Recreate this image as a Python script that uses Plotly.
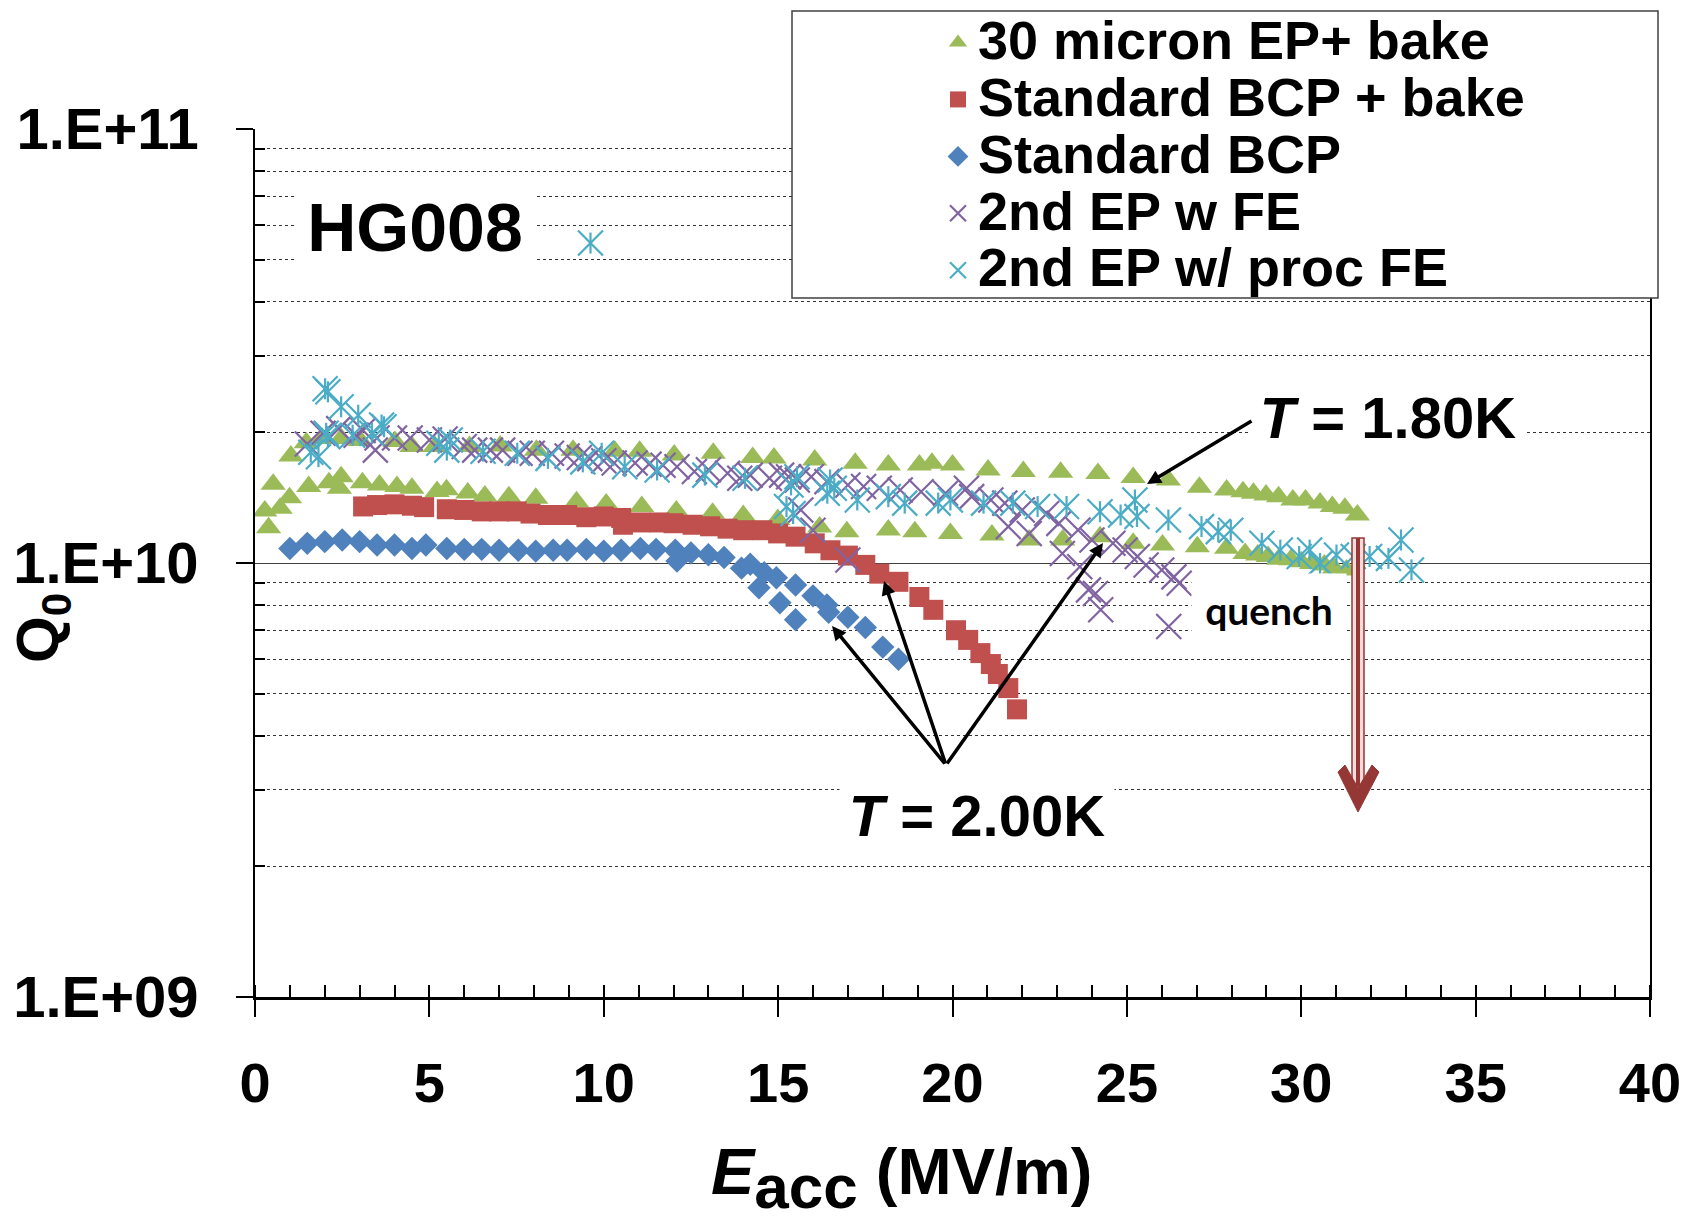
import plotly.graph_objects as go

# ---------------- data ----------------
# 30 micron EP + bake (lower branch, T=2.00K, then upper branch, T=1.80K)
E_ep = [0.28, 0.39, 0.52, 0.72, 0.99, 1.54, 2.12, 2.42, 2.47, 3.08, 3.57, 4.07, 4.50, 5.22, 5.49,
        6.10, 6.59, 7.28, 8.05, 9.22, 10.07, 11.09, 12.08, 13.12, 14.0, 14.99, 16.19, 16.97, 18.16,
        18.92, 19.94, 21.13, 22.20, 23.16, 24.23, 25.18, 26.02, 27.02, 27.86, 28.39, 28.75, 29.05,
        29.35, 29.70, 30.0, 30.3, 30.66, 30.95, 31.3,
        1.03, 1.47, 1.93, 2.47, 3.02, 4.01, 4.50, 5.16, 6.15, 7.03, 8.07, 9.12, 10.32, 11.03, 12.02,
        13.14, 14.27, 14.88, 16.05, 17.21, 18.16, 19.05, 19.41, 20.0, 21.02, 22.03, 23.10, 24.17,
        25.18, 26.19, 27.08, 27.86, 28.33, 28.63, 28.99, 29.35, 29.76, 30.12, 30.54, 30.89, 31.25, 31.61]
Q_ep = [1.318e10, 1.206e10, 1.518e10, 1.337e10, 1.414e10, 1.50e10, 1.531e10, 1.486e10, 1.581e10,
        1.531e10, 1.513e10, 1.50e10, 1.486e10, 1.462e10, 1.474e10, 1.449e10, 1.426e10, 1.422e10,
        1.41e10, 1.384e10, 1.368e10, 1.349e10, 1.318e10, 1.302e10, 1.286e10, 1.26e10, 1.21e10,
        1.181e10, 1.191e10, 1.181e10, 1.17e10, 1.16e10, 1.13e10, 1.13e10, 1.15e10, 1.11e10, 1.10e10,
        1.09e10, 1.081e10, 1.052e10, 1.043e10, 1.035e10, 1.02e10, 1.017e10, 1.007e10, 0.998e10,
        0.989e10, 0.973e10, 0.964e10,
        1.765e10, 1.893e10, 1.937e10, 1.937e10, 1.915e10, 1.905e10, 1.855e10, 1.855e10, 1.855e10,
        1.86e10, 1.82e10, 1.82e10, 1.81e10, 1.81e10, 1.774e10, 1.79e10, 1.75e10, 1.745e10, 1.726e10,
        1.698e10, 1.682e10, 1.682e10, 1.698e10, 1.682e10, 1.638e10, 1.625e10, 1.618e10, 1.607e10,
        1.575e10, 1.554e10, 1.494e10, 1.473e10, 1.46e10, 1.448e10, 1.435e10, 1.422e10, 1.397e10,
        1.397e10, 1.374e10, 1.349e10, 1.337e10, 1.29e10]

# Standard BCP + bake
E_bcpb = [3.1, 3.5, 4.0, 4.5, 4.85, 5.5, 6.0, 6.5, 7.0, 7.5, 7.9, 8.4, 8.95, 9.5, 10.0, 10.5, 10.55,
          11.05, 11.6, 12.0, 12.55, 13.05, 13.55, 14.0, 14.55, 15.0, 15.5, 16.05, 16.5, 17.0, 17.5,
          17.9, 18.45, 19.05, 19.45, 20.1, 20.45, 20.8, 21.1, 21.3, 21.6, 21.85]
Q_bcpb = [1.35e10, 1.36e10, 1.365e10, 1.355e10, 1.345e10, 1.33e10, 1.325e10, 1.315e10, 1.315e10,
          1.315e10, 1.30e10, 1.29e10, 1.29e10, 1.275e10, 1.28e10, 1.27e10, 1.225e10, 1.24e10,
          1.24e10, 1.235e10, 1.225e10, 1.215e10, 1.20e10, 1.19e10, 1.19e10, 1.17e10, 1.15e10,
          1.11e10, 1.07e10, 1.04e10, 0.99e10, 0.945e10, 0.905e10, 0.835e10, 0.78e10, 0.70e10,
          0.665e10, 0.62e10, 0.585e10, 0.555e10, 0.515e10, 0.46e10]

# Standard BCP
E_bcp = [1.0, 1.5, 2.0, 2.5, 3.0, 3.5, 4.0, 4.5, 4.9, 5.5, 6.0, 6.5, 7.0, 7.55, 8.05, 8.55, 8.95,
         9.5, 10.0, 10.5, 11.05, 11.5, 12.05, 12.1, 12.5, 13.0, 13.45, 13.95, 14.2, 14.45, 14.6,
         14.95, 15.05, 15.5, 15.5, 16.0, 16.4, 16.45, 17.0, 17.5, 18.0, 18.45]
Q_bcp = [1.08e10, 1.11e10, 1.12e10, 1.13e10, 1.12e10, 1.10e10, 1.10e10, 1.08e10, 1.10e10, 1.08e10,
         1.075e10, 1.075e10, 1.07e10, 1.07e10, 1.065e10, 1.07e10, 1.07e10, 1.075e10, 1.065e10,
         1.07e10, 1.08e10, 1.075e10, 1.07e10, 1.01e10, 1.055e10, 1.045e10, 1.03e10, 0.973e10,
         0.993e10, 0.877e10, 0.95e10, 0.925e10, 0.81e10, 0.89e10, 0.74e10, 0.84e10, 0.80e10,
         0.77e10, 0.75e10, 0.71e10, 0.64e10, 0.60e10]

# 2nd EP w FE
E_fe = [1.5, 1.95, 2.4, 2.9, 3.1, 3.45, 3.5, 4.0, 4.45, 5.0, 5.45, 6.0, 6.3, 6.75, 7.1, 7.6, 7.95,
        8.5, 8.95, 9.3, 9.6, 10.0, 10.3, 10.9, 11.3, 11.7, 12.1, 12.6, 13.0, 13.55, 13.9, 14.2,
        14.75, 15.1, 15.3, 15.55, 15.65, 15.95, 16.0, 16.4, 17.0, 17.0, 17.45, 17.9, 18.5, 19.1,
        19.8, 20.4, 20.55, 21.1, 21.5, 21.6, 22.0, 22.2, 22.7, 23.05, 23.15, 23.6, 23.65, 24.0,
        23.9, 24.1, 24.25, 24.6, 24.95, 25.3, 25.55, 26.0, 26.35, 26.5, 26.2]
Q_fe = [1.88e10, 1.99e10, 2.04e10, 1.97e10, 2.02e10, 1.82e10, 1.94e10, 1.94e10, 1.94e10, 1.92e10,
        1.93e10, 1.855e10, 1.82e10, 1.82e10, 1.82e10, 1.79e10, 1.79e10, 1.79e10, 1.765e10, 1.75e10,
        1.74e10, 1.72e10, 1.70e10, 1.70e10, 1.69e10, 1.68e10, 1.667e10, 1.625e10, 1.64e10, 1.61e10,
        1.567e10, 1.594e10, 1.567e10, 1.594e10, 1.58e10, 1.554e10, 1.325e10, 1.58e10, 1.19e10,
        1.54e10, 1.513e10, 1.016e10, 1.50e10, 1.486e10, 1.473e10, 1.46e10, 1.448e10, 1.486e10,
        1.422e10, 1.397e10, 1.374e10, 1.213e10, 1.325e10, 1.17e10, 1.30e10, 1.234e10, 1.052e10,
        1.191e10, 0.98e10, 1.13e10, 0.867e10, 0.851e10, 0.78e10, 1.11e10, 1.071e10, 1.035e10,
        0.989e10, 0.964e10, 0.929e10, 0.898e10, 0.714e10]

# 2nd EP w/ proc FE
E_proc = [1.6, 1.82, 2.01, 2.09, 2.04, 2.09, 2.47, 2.8, 2.96, 3.35, 3.63, 3.7, 5.27, 5.5, 5.6, 6.54,
          7.52, 8.4, 9.4, 9.62, 9.94, 10.6, 11.53, 12.9, 14.05, 15.24, 15.37, 15.43, 15.54, 16.41,
          16.49, 16.61, 17.27, 18.16, 18.63, 19.59, 19.94, 20.89, 21.73, 22.44, 23.27, 24.23, 24.82,
          25.23, 25.29, 26.19, 27.14, 27.62, 27.98, 28.87, 29.40, 29.94, 30.24, 30.54, 31.01, 31.49,
          31.96, 32.50, 32.86, 33.16]
Q_proc = [1.80e10, 1.758e10, 2.52e10, 2.48e10, 1.99e10, 1.955e10, 2.29e10, 1.97e10, 2.19e10,
          1.99e10, 2.08e10, 2.06e10, 1.888e10, 1.82e10, 1.92e10, 1.81e10, 1.79e10, 1.742e10,
          1.71e10, 5.46e10, 1.79e10, 1.667e10, 1.638e10, 1.594e10, 1.567e10, 1.349e10, 1.513e10,
          1.30e10, 1.58e10, 1.448e10, 1.554e10, 1.486e10, 1.397e10, 1.422e10, 1.374e10, 1.374e10,
          1.397e10, 1.374e10, 1.374e10, 1.349e10, 1.349e10, 1.313e10, 1.29e10, 1.397e10, 1.28e10,
          1.256e10, 1.213e10, 1.181e10, 1.19e10, 1.11e10, 1.071e10, 1.035e10, 1.071e10, 0.998e10,
          1.043e10, 1.035e10, 1.035e10, 1.025e10, 1.13e10, 0.964e10]

series_names = ["30 micron EP+ bake", "Standard BCP + bake", "Standard BCP",
                "2nd EP w FE", "2nd EP w/ proc FE"]
y_tickvals = [1e9, 1e10, 1e11]
y_ticktext = ["1.E+09", "1.E+10", "1.E+11"]
x_tickvals = [0, 5, 10, 15, 20, 25, 30, 35, 40]

# ---------------- styling ----------------
FONT = "Liberation Sans, Arial, sans-serif"
GREEN, RED, BLUE, PURPLE, CYAN = "#9BBB59", "#C0504D", "#4F81BD", "#8064A2", "#4BACC6"
LEG_TXT = '<span style="font-size:54px">{}</span>'

W, H = 1685, 1230
ML, MR, MT, MB = 255, 35, 129, 233
PW, PH = W - ML - MR, H - MT - MB


def px(xf):
    return (xf - ML) / PW


def py(yf):
    return (H - MB - yf) / PH


fig = go.Figure()
fig.add_trace(go.Scatter(x=E_ep, y=Q_ep, mode="markers", name=LEG_TXT.format(series_names[0]),
                         marker=dict(symbol="triangle-up", size=22, color=GREEN)))
fig.add_trace(go.Scatter(x=E_bcpb, y=Q_bcpb, mode="markers", name=LEG_TXT.format(series_names[1]),
                         marker=dict(symbol="square", size=20, color=RED)))
fig.add_trace(go.Scatter(x=E_bcp, y=Q_bcp, mode="markers", name=LEG_TXT.format(series_names[2]),
                         marker=dict(symbol="diamond", size=18, color=BLUE)))
fig.add_trace(go.Scatter(x=E_fe, y=Q_fe, mode="markers", name=LEG_TXT.format(series_names[3]),
                         marker=dict(symbol="x-thin-open", size=25, color=PURPLE,
                                     line=dict(width=2.2, color=PURPLE))))
fig.add_trace(go.Scatter(x=E_proc, y=Q_proc, mode="markers", name=LEG_TXT.format(series_names[4]),
                         marker=dict(symbol="x-thin-open", size=25, color=CYAN,
                                     line=dict(width=2.2, color=CYAN))))
fig.add_trace(go.Scatter(x=E_proc, y=Q_proc, mode="markers", showlegend=False,
                         marker=dict(symbol="line-ns-open", size=15, color=CYAN,
                                     line=dict(width=2.2, color=CYAN))))

minor_y = [m * 10 ** e for e in (9, 10) for m in range(2, 10)]

fig.update_layout(
    width=W, height=H,
    margin=dict(l=ML, r=MR, t=MT, b=MB, autoexpand=False),
    plot_bgcolor="white", paper_bgcolor="white",
    font=dict(family=FONT, color="black"),
    showlegend=True,
    legend=dict(x=px(938), y=py(9), xanchor="left", yanchor="top",
                bgcolor="rgba(0,0,0,0)", borderwidth=0,
                font=dict(family=FONT, size=41.5, color="black", weight="bold")),
    xaxis=dict(range=[0, 40], tickmode="array", tickvals=x_tickvals,
               ticks="outside", ticklen=17, tickwidth=2, tickcolor="black",
               showline=True, linewidth=3, linecolor="black",
               showgrid=False, zeroline=False, ticklabelstandoff=18,
               tickfont=dict(family=FONT, size=56, color="black", weight="bold"),
               minor=dict(ticks="inside", ticklen=12, tickwidth=2, tickcolor="black",
                          dtick=1, tick0=0, showgrid=False)),
    yaxis=dict(type="log", range=[9, 11], tickmode="array", tickvals=y_tickvals,
               ticktext=y_ticktext, ticks="outside", ticklen=17, tickwidth=1.5,
               tickcolor="black", showline=True, linewidth=1.5, linecolor="black",
               mirror=True, showgrid=True, gridcolor="#404040", gridwidth=1,
               zeroline=False, ticklabelstandoff=26,
               tickfont=dict(family=FONT, size=58, color="black", weight="bold"),
               minor=dict(tickmode="array", tickvals=minor_y, ticks="inside", ticklen=10,
                          tickwidth=1.5, tickcolor="black", showgrid=True,
                          gridcolor="#333333", griddash="dot", gridwidth=1)),
)

shapes = [
    # legend frame
    dict(type="rect", xref="paper", yref="paper", x0=px(792), x1=px(1658), y0=py(298), y1=py(11),
         line=dict(color="#404040", width=1.5), fillcolor="white", layer="above"),
    # quench arrow shaft
    dict(type="rect", xref="paper", yref="paper", x0=px(1352), x1=px(1364), y0=py(786), y1=py(538),
         line=dict(color="#953735", width=1.5), fillcolor="#F2DCDB", layer="above"),
    dict(type="line", xref="paper", yref="paper", x0=px(1358), x1=px(1358), y0=py(786), y1=py(538),
         line=dict(color="#953735", width=4), layer="above"),
    # quench arrow head
    dict(type="path", xref="paper", yref="paper", layer="above",
         path="M {:.5f},{:.5f} L {:.5f},{:.5f} L {:.5f},{:.5f} L {:.5f},{:.5f} L {:.5f},{:.5f} L {:.5f},{:.5f} Z".format(
             px(1338), py(772), px(1358), py(812), px(1379), py(772),
             px(1372), py(765), px(1358), py(788), px(1345), py(765)),
         fillcolor="#953735", line=dict(color="#953735", width=1)),
]
fig.update_layout(shapes=shapes)

ann = []
bold = dict(family=FONT, color="black", weight="bold")
ann.append(dict(xref="paper", yref="paper", x=px(415), y=py(226), text="HG008", showarrow=False,
                font=dict(size=68, **bold), bgcolor="white", width=236, height=85,
                xanchor="center", yanchor="middle"))
ann.append(dict(xref="paper", yref="paper", x=px(1388), y=py(417), text="<i>T</i> = 1.80K",
                showarrow=False, font=dict(size=58, **bold), bgcolor="white", width=272,
                xanchor="center", yanchor="middle"))
ann.append(dict(xref="paper", yref="paper", x=px(977), y=py(816), text="<i>T</i> = 2.00K",
                showarrow=False, font=dict(size=58, **bold), bgcolor="white", width=272,
                xanchor="center", yanchor="middle"))
ann.append(dict(xref="paper", yref="paper", x=px(1269), y=py(610), text="quench",
                showarrow=False, font=dict(family="Lato, Carlito, sans-serif", size=39,
                                            color="black", weight="bold"),
                bgcolor="white", width=152, height=70, xanchor="center", yanchor="middle"))
# arrows
arrow = dict(xref="paper", yref="paper", text="", showarrow=True, arrowhead=2, arrowsize=0.8,
             arrowwidth=3.5, arrowcolor="black", standoff=0, startstandoff=0)
ann.append(dict(arrow, x=px(1147), y=py(484), ax=106, ay=-64))
ann.append(dict(arrow, x=px(832), y=py(626), ax=114, ay=139))
ann.append(dict(arrow, x=px(884), y=py(581), ax=62, ay=184))
ann.append(dict(arrow, x=px(1103), y=py(543), ax=-157, ay=222))
# axis titles
ann.append(dict(xref="paper", yref="paper", x=px(902), y=py(1178),
                text="<i>E</i><sub><span style=\"font-size:62px\">acc</span></sub> (MV/m)",
                showarrow=False, font=dict(size=65, **bold), xanchor="center", yanchor="middle"))
ann.append(dict(xref="paper", yref="paper", x=px(42), y=py(628), text="Q<sub>0</sub>",
                showarrow=False, textangle=-90, font=dict(size=60, **bold),
                xanchor="center", yanchor="middle"))
fig.update_layout(annotations=ann)

fig.write_html("out.html")
